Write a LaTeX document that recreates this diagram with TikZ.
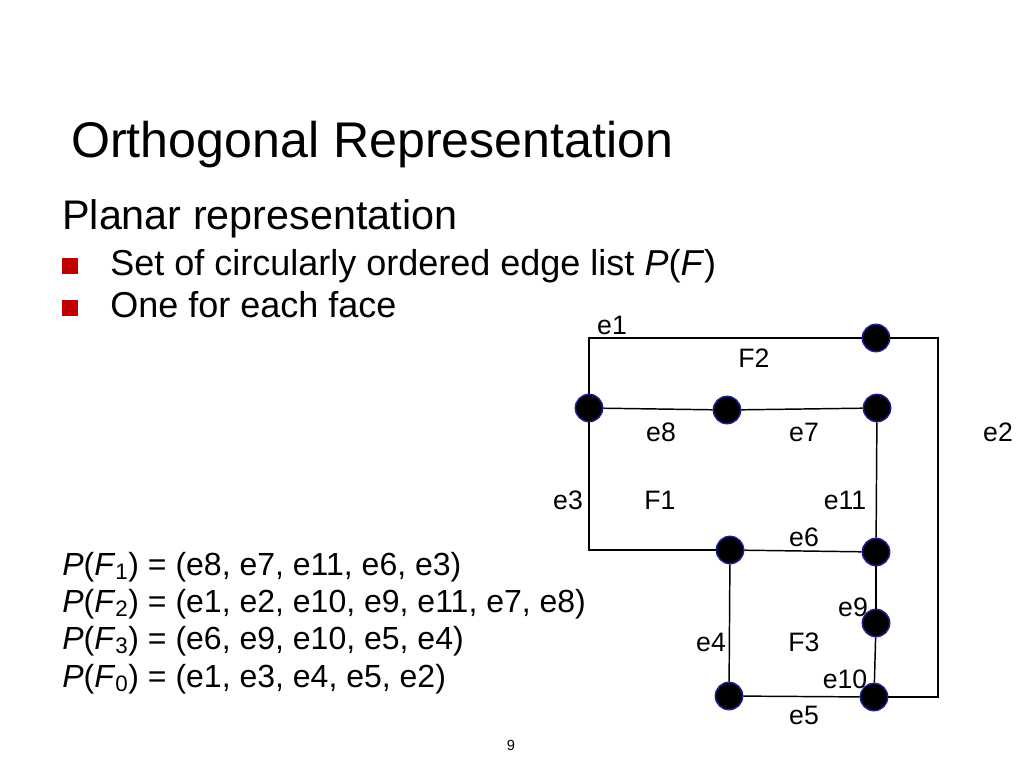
\documentclass[tikz,border=0pt]{standalone}
\usepackage{fontspec}
\setmainfont{Liberation Sans}
\usepackage{xcolor}
\usepackage{tikz}
\usetikzlibrary{positioning,calc}
\definecolor{bulletRed}{HTML}{C00000}
\definecolor{vtxBlue}{HTML}{1E1E9A}

\begin{document}
\begin{tikzpicture}[x=0.75pt,y=-0.75pt,
  vtx/.style={circle,fill=black,draw=vtxBlue,line width=1.1pt,minimum size=20.5pt,inner sep=0pt},
  edge/.style={draw=black,line width=1.1pt},
  lbl/.style={font=\fontsize{20}{24}\selectfont,inner sep=0pt},
  eqn/.style={anchor=base west,inner sep=0pt,font=\fontsize{24}{28}\selectfont},
  every node/.style={inner sep=1pt}]
\useasboundingbox[fill=white] (0,0) rectangle (1024,768);
% --- title and bullets ---
\node[anchor=base west,inner sep=0pt,font=\fontsize{37.6}{44}\selectfont] (title) at (71,157) {Orthogonal Representation};
\node[anchor=base west,inner sep=0pt,font=\fontsize{31}{37}\selectfont] (planar) at (62,229) {Planar representation};
\foreach \y/\n/\t in {275/b1/{Set of circularly ordered edge list \textit{P}(\textit{F})},317/b2/{One for each face}} {
  \node[anchor=base west,inner sep=0pt,font=\fontsize{27}{32}\selectfont] (\n) at (110,\y) {\t};
  \fill[bulletRed] (62,\y-17) rectangle (78,\y-1);}
% --- face lists ---
\node[eqn] (p1) at (62,575) {\textit{P}(\textit{F}\textsubscript{1}) = (e8, e7, e11, e6, e3)};
\node[eqn] (p2) at (62,612) {\textit{P}(\textit{F}\textsubscript{2}) = (e1, e2, e10, e9, e11, e7, e8)};
\node[eqn] (p3) at (62,649) {\textit{P}(\textit{F}\textsubscript{3}) = (e6, e9, e10, e5, e4)};
\node[eqn] (p0) at (62,687) {\textit{P}(\textit{F}\textsubscript{0}) = (e1, e3, e4, e5, e2)};
% --- graph ---
\foreach \x/\y/\n in {876/338/vA,589/408/vB,727/410/vC,877/408/vD,730/550/vE,876/552/vG,876/623/vH,729/696/vI,874/697/vJ} {
  \node[vtx] (\n) at (\x,\y) {};}
\coordinate (cR) at (938,338);
\draw[edge] (vB) |- (vA);          % e1
\draw[edge] (vA) -- (cR) |- (vJ);  % e2
\draw[edge] (vB) |- (vE);          % e3
\draw[edge] (vE) -- (vI);          % e4
\draw[edge] (vI) -- (vJ);          % e5
\draw[edge] (vE) -- (vG);          % e6
\draw[edge] (vC) -- (vD);          % e7
\draw[edge] (vB) -- (vC);          % e8
\draw[edge] (vG) -- (vH);          % e9
\draw[edge] (vH) -- (vJ);          % e10
\draw[edge] (vD) -- (vG);          % e11
% --- labels ---
\foreach \x/\y/\t in {612/325/e1,998/432/e2,568/500/e3,711/642/e4,804/715/e5,804/537/e6,804/432/e7,661/432/e8,853/607/e9,845/679/e10,845/500/e11,754/358/F2,660/500/F1,804/642/F3} {
  \node[lbl] (l\t) at (\x,\y) {\t};}
\node[font=\fontsize{11}{13}\selectfont] (pagenum) at (511,745) {9};
\end{tikzpicture}
\end{document}
